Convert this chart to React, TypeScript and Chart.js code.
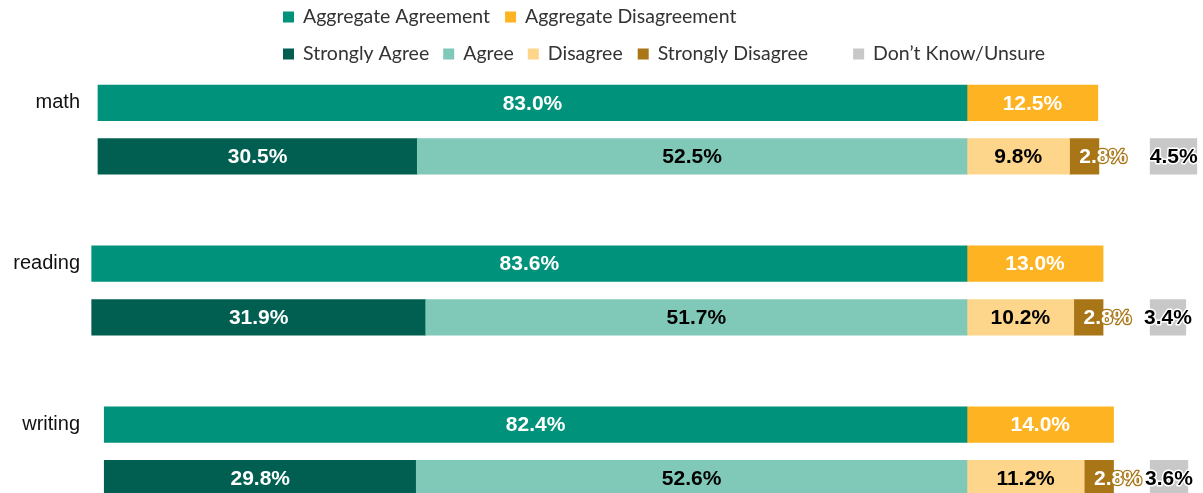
import React, { useEffect, useRef } from "react";
import { Chart, registerables } from "chart.js";

Chart.register(...registerables);

const subjects = ["math", "reading", "writing"];
const aggregateAgreement = [83.0, 83.6, 82.4];
const aggregateDisagreement = [12.5, 13.0, 14.0];
const stronglyAgree = [30.5, 31.9, 29.8];
const agree = [52.5, 51.7, 52.6];
const disagree = [9.8, 10.2, 11.2];
const stronglyDisagree = [2.8, 2.8, 2.8];
const dontKnow = [4.5, 3.4, 3.6];
const DK_START = 17.5;

const COLORS = {
  aggAgree: "#00927A",
  aggDis: "#FDB322",
  sa: "#005F50",
  agree: "#80C8B8",
  dis: "#FDD68B",
  sd: "#A87617",
  dk: "#C8C8C8",
};

// two bars per subject plus a blank slot between subjects
const ROWS = subjects.length * 3 - 1;
const rowLabels: string[] = [];
for (let i = 0; i < ROWS; i++) rowLabels.push(i % 3 === 0 ? subjects[i / 3] : "");

function aggRow(vals: number[], sign: number) {
  const d: (number | null)[] = new Array(ROWS).fill(null);
  vals.forEach((v, i) => (d[i * 3] = sign * v));
  return d;
}
function detRow(vals: number[], sign: number) {
  const d: (number | null)[] = new Array(ROWS).fill(null);
  vals.forEach((v, i) => (d[i * 3 + 1] = sign * v));
  return d;
}
function dkRow(vals: number[]) {
  const d: any[] = new Array(ROWS).fill(null);
  vals.forEach((v, i) => (d[i * 3 + 1] = [DK_START, DK_START + v]));
  return d;
}

const legendRows = [
  [
    { label: "Aggregate Agreement", color: COLORS.aggAgree, gap: 0 },
    { label: "Aggregate Disagreement", color: COLORS.aggDis, gap: 15 },
  ],
  [
    { label: "Strongly Agree", color: COLORS.sa, gap: 0 },
    { label: "Agree", color: COLORS.agree, gap: 14 },
    { label: "Disagree", color: COLORS.dis, gap: 14 },
    { label: "Strongly Disagree", color: COLORS.sd, gap: 15 },
    { label: "Don\u2019t Know/Unsure", color: COLORS.dk, gap: 45 },
  ],
];

const legendPlugin = {
  id: "customLegend",
  afterDraw(chart: any) {
    const ctx = chart.ctx;
    ctx.save();
    ctx.font = "19.5px Lato";
    ctx.textBaseline = "alphabetic";
    ctx.textAlign = "left";
    const rowsY = [23, 60];
    const sq = 11;
    legendRows.forEach((row, r) => {
      let x = 283;
      row.forEach((item) => {
        x += item.gap;
        ctx.fillStyle = item.color;
        ctx.fillRect(x, rowsY[r] - 11.5, sq, sq);
        x += sq + 9;
        ctx.fillStyle = "#333333";
        ctx.fillText(item.label, x, rowsY[r]);
        x += ctx.measureText(item.label).width;
      });
    });
    ctx.restore();
  },
};

const labelPlugin = {
  id: "valueLabels",
  afterDatasetsDraw(chart: any) {
    const ctx = chart.ctx;
    ctx.save();
    ctx.font = "bold 21px 'Liberation Sans', Arial";
    ctx.textAlign = "center";
    ctx.textBaseline = "middle";
    ctx.lineJoin = "round";
    chart.data.datasets.forEach((ds: any, di: number) => {
      const meta = chart.getDatasetMeta(di);
      meta.data.forEach((el: any, i: number) => {
        const raw = ds.data[i];
        if (raw === null || raw === undefined) return;
        const v = Array.isArray(raw) ? raw[1] - raw[0] : Math.abs(raw);
        const text = v.toFixed(1) + "%";
        const cx = (el.x + el.base) / 2 + (ds.labelShift || 0);
        const cy = el.y + 1;
        if (ds.labelStroke) {
          ctx.lineWidth = ds.labelStrokeWidth || 3;
          ctx.strokeStyle = ds.labelStroke;
          ctx.strokeText(text, cx, cy);
        }
        ctx.fillStyle = ds.labelColor;
        ctx.fillText(text, cx, cy);
      });
    });
    ctx.restore();
  },
};

export default function App() {
  const ref = useRef<HTMLCanvasElement>(null);
  useEffect(() => {
    if (!ref.current) return;
    const common = { grouped: false, barThickness: 35.5, borderWidth: 0 };
    const chart = new Chart(ref.current, {
      type: "bar",
      data: {
        labels: rowLabels,
        datasets: [
          { label: "Aggregate Agreement", data: aggRow(aggregateAgreement, -1), backgroundColor: COLORS.aggAgree, stack: "main", labelColor: "#ffffff", ...common } as any,
          { label: "Aggregate Disagreement", data: aggRow(aggregateDisagreement, 1), backgroundColor: COLORS.aggDis, stack: "main", labelColor: "#ffffff", ...common } as any,
          { label: "Agree", data: detRow(agree, -1), backgroundColor: COLORS.agree, stack: "main", labelColor: "#000000", ...common } as any,
          { label: "Strongly Agree", data: detRow(stronglyAgree, -1), backgroundColor: COLORS.sa, stack: "main", labelColor: "#ffffff", ...common } as any,
          { label: "Disagree", data: detRow(disagree, 1), backgroundColor: COLORS.dis, stack: "main", labelColor: "#000000", ...common } as any,
          { label: "Strongly Disagree", data: detRow(stronglyDisagree, 1), backgroundColor: COLORS.sd, stack: "main", labelColor: "#ffffff", labelStroke: COLORS.sd, labelStrokeWidth: 2.5, labelShift: 19, ...common } as any,
          { label: "Don\u2019t Know/Unsure", data: dkRow(dontKnow), backgroundColor: COLORS.dk, stack: "dk", labelColor: "#000000", labelStroke: "#ffffff", labelStrokeWidth: 3, ...common } as any,
        ],
      },
      options: {
        indexAxis: "y",
        animation: false,
        responsive: true,
        maintainAspectRatio: false,
        devicePixelRatio: 1,
        events: [],
        layout: { padding: { top: 76, bottom: 5, left: 0, right: 5.7 } },
        plugins: { legend: { display: false }, tooltip: { enabled: false } },
        scales: {
          x: { stacked: true, display: false, min: -84, max: 22 },
          y: {
            stacked: true,
            grid: { display: false, drawTicks: false },
            border: { display: false },
            afterFit: (scale: any) => {
              scale.width = 87.5;
              scale.paddingTop = 0;
              scale.paddingBottom = 0;
            },
            ticks: {
              autoSkip: false,
              padding: 7.5,
              color: "#111111",
              font: { family: "'Liberation Sans', Arial", size: 20 },
            },
          },
        },
      } as any,
      plugins: [legendPlugin, labelPlugin],
    });
    return () => chart.destroy();
  }, []);
  return (
    <div style={{ position: "absolute", left: 0, top: 0, width: 1203, height: 493, overflow: "hidden", background: "#fff" }}>
      <div style={{ position: "relative", width: 1203, height: 510 }}>
        <canvas ref={ref} />
      </div>
    </div>
  );
}
